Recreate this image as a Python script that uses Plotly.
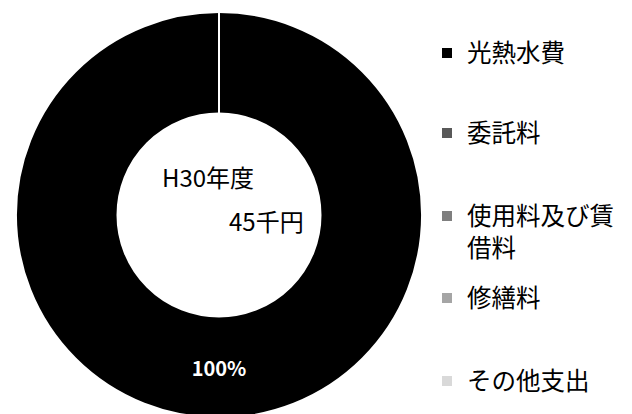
import plotly.graph_objects as go

categories = ["光熱水費", "委託料", "使用料及び賃<br>借料", "修繕料", "その他支出"]
values = [45, 0, 0, 0, 0]  # 千円
colors = ["#000000", "#595959", "#7f7f7f", "#a5a5a5", "#d9d9d9"]
year_label = "H30年度"
unit = "千円"

FONT = "Noto Sans CJK JP, Noto Sans, sans-serif"
W, H = 632, 414
total = sum(values)

fig = go.Figure()
fig.add_trace(go.Pie(
    labels=categories, values=values, sort=False, direction="clockwise",
    hole=0.5, marker=dict(colors=colors, line=dict(color="white", width=2)),
    textinfo="percent", textposition="inside", insidetextorientation="horizontal",
    textfont=dict(color="white", size=20, family=FONT, weight="bold"),
    showlegend=False, hoverinfo="label+value+percent",
    domain=dict(x=[8 / W, 414 / W], y=[4 / H, 410 / H]),
))

legend_y = [45, 125, 224, 290, 373]
for i, (cat, col) in enumerate(zip(categories, colors)):
    lname = "legend" if i == 0 else f"legend{i + 1}"
    fig.add_trace(go.Scatter(
        x=[None], y=[None], mode="markers", name=cat,
        marker=dict(symbol="square", size=10, color=col),
        legend=lname, showlegend=True, hoverinfo="skip",
    ))
    fig.layout[lname] = dict(
        x=419 / W, y=1 - legend_y[i] / H, xanchor="left",
        yanchor="middle", valign="top", bgcolor="rgba(0,0,0,0)",
        font=dict(family=FONT, size=24.5, color="#000"),
    )

fig.add_annotation(x=152 / W, y=1 - 168 / H, xref="paper", yref="paper",
                   text=year_label, showarrow=False, xanchor="left", yanchor="middle",
                   font=dict(family=FONT, size=24, color="#000"))
fig.add_annotation(x=298 / W, y=1 - 213 / H, xref="paper", yref="paper",
                   text=f"{total}{unit}", showarrow=False, xanchor="right", yanchor="middle",
                   font=dict(family=FONT, size=24, color="#000"))

fig.update_layout(
    width=W, height=H, margin=dict(l=0, r=0, t=0, b=0),
    paper_bgcolor="white", plot_bgcolor="white",
    xaxis=dict(visible=False), yaxis=dict(visible=False),
    font=dict(family=FONT),
)
fig.write_html("out.html")
